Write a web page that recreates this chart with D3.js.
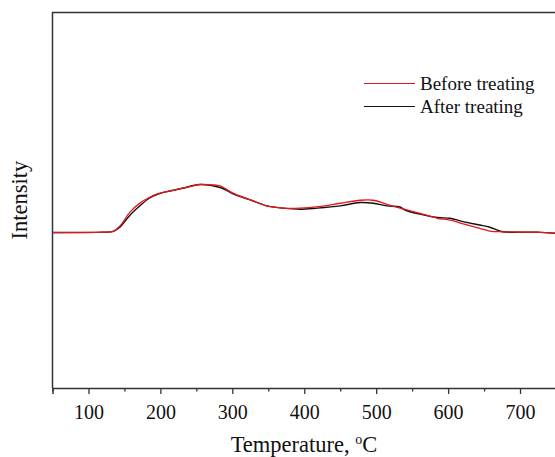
<!DOCTYPE html>
<html>
<head>
<script src="https://d3js.org/d3.v7.min.js"></script>
<style>
  body { margin: 0; background: #fff; }
  svg { display: block; font-family: "Liberation Serif", "Times New Roman", serif; }
</style>
</head>
<body>
<script>
// temperature (°C) and intensity (a.u.)
var tempBefore = [50, 120, 135, 144, 158, 172, 185, 196, 209, 231, 255, 273, 283, 301, 325, 348, 371, 394, 420, 450, 478, 496, 515, 537, 561, 575, 585, 603, 621, 644, 658, 676, 700, 724, 750];
var before     = [41.4, 41.5, 41.8, 43.2, 46.9, 49.3, 50.8, 51.7, 52.3, 53.2, 54.2, 54.1, 53.8, 51.9, 50.1, 48.5, 47.9, 47.9, 48.3, 49.2, 50.0, 50.0, 48.9, 47.7, 46.5, 45.8, 45.2, 44.7, 43.7, 42.5, 41.8, 41.6, 41.5, 41.5, 41.2];
var tempAfter  = [50, 120, 135, 144, 158, 172, 185, 196, 209, 231, 255, 283, 301, 325, 348, 371, 394, 418, 450, 478, 496, 515, 533, 540, 561, 585, 603, 621, 644, 658, 676, 700, 724, 750];
var after      = [41.4, 41.5, 41.7, 42.9, 46.1, 48.6, 50.6, 51.6, 52.3, 53.2, 54.2, 53.4, 51.7, 50.1, 48.5, 47.9, 47.6, 47.9, 48.5, 49.4, 49.2, 48.5, 48.2, 47.4, 46.3, 45.4, 45.2, 44.3, 43.4, 42.8, 41.6, 41.5, 41.5, 41.2];
var xTicks = [100, 200, 300, 400, 500, 600, 700];
var seriesNames = ["Before treating", "After treating"];
var seriesColors = ["#e8141c", "#111111"];

const width = 555, height = 457;
const margin = {top: 12.5, left: 52.5, bottom: 69, right: -1};

const svg = d3.select("body").append("svg").attr("width", width).attr("height", height);

const x = d3.scaleLinear().domain([50, 750]).range([margin.left, width - margin.right]);
const y = d3.scaleLinear().domain([0, 100]).range([height - margin.bottom, margin.top]);

// frame
svg.append("path")
  .attr("d", `M${x(750)},${y(100)}H${x(50)}V${y(0)}`)
  .attr("fill", "none").attr("stroke", "#333").attr("stroke-width", 1.5);

// x axis, major + minor ticks
const minor = d3.range(50, 751, 100);
svg.append("g")
  .attr("transform", `translate(0,${y(0)})`)
  .call(d3.axisBottom(x).tickValues(minor).tickSize(3.5).tickFormat(""))
  .call(g => g.select(".domain").remove())
  .call(g => g.selectAll("line").attr("stroke", "#333").attr("stroke-width", 1.3));
svg.append("g")
  .attr("transform", `translate(0,${y(0)})`)
  .call(d3.axisBottom(x).tickValues(xTicks).tickSize(6).tickPadding(11))
  .call(g => g.select(".domain").attr("stroke", "#333").attr("stroke-width", 1.5))
  .call(g => g.selectAll("line").attr("stroke", "#333").attr("stroke-width", 1.3))
  .call(g => g.selectAll("text").attr("font-size", 20).attr("fill", "#111")
    .attr("font-family", "Liberation Serif"));

// axis titles
const xt = svg.append("text")
  .attr("x", 304).attr("y", 452).attr("text-anchor", "middle")
  .attr("font-size", 22.5).attr("fill", "#111");
xt.append("tspan").text("Temperature, ");
xt.append("tspan").text("o").attr("font-size", 14).attr("dy", -8);
xt.append("tspan").text("C").attr("dy", 8);

svg.append("text")
  .attr("transform", "translate(27,200) rotate(-90)")
  .attr("text-anchor", "middle").attr("font-size", 22.5).attr("fill", "#111")
  .text("Intensity");

// lines
const line = d3.line().x(d => x(d[0])).y(d => y(d[1])).curve(d3.curveCatmullRom.alpha(0.5));
svg.append("path")
  .datum(d3.zip(tempAfter, after))
  .attr("d", line).attr("fill", "none")
  .attr("stroke", seriesColors[1]).attr("stroke-width", 1.4);
svg.append("path")
  .datum(d3.zip(tempBefore, before))
  .attr("d", line).attr("fill", "none")
  .attr("stroke", seriesColors[0]).attr("stroke-width", 1.3);

// legend
const lg = svg.append("g");
seriesNames.forEach((n, i) => {
  const yy = 83.5 + i * 23;
  lg.append("line").attr("x1", 364).attr("x2", 415).attr("y1", yy).attr("y2", yy)
    .attr("stroke", seriesColors[i]).attr("stroke-width", 1.2);
  lg.append("text").attr("x", 420).attr("y", yy + 6)
    .attr("font-size", 19).attr("fill", "#111").text(n);
});
</script>
</body>
</html>
